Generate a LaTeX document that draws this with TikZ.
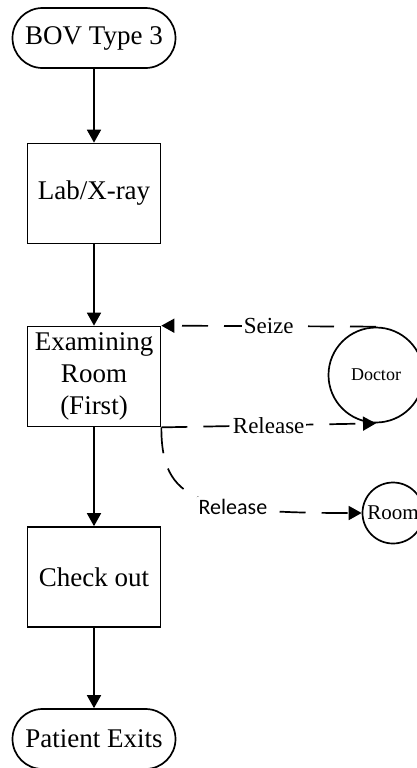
\documentclass[tikz,border=0pt]{standalone}
\usepackage{fontspec}
\setmainfont{Liberation Serif}
\newfontfamily\labelsans{Carlito}
\usepackage{tikz}
\usetikzlibrary{positioning, arrows.meta, calc}

\begin{document}
\begin{tikzpicture}[x=0.5pt, y=-0.5pt, line width=0.85pt,
	terminal/.style={draw, rectangle, rounded corners=15pt, minimum width=81.5pt,
	minimum height=30pt, inner sep=0pt, font=\fontsize{13.5}{16}\selectfont},
	process/.style={draw, rectangle, minimum width=66.5pt,
	minimum height=50pt, inner sep=0pt, align=center, font=\fontsize{13.5}{16}\selectfont},
	resource/.style={draw, circle, inner sep=0pt, font=\fontsize{9}{11}\selectfont},
	flow/.style={-{Triangle[length=6.5pt, width=7pt]}},
	link/.style={-{Triangle[length=6.5pt, width=7pt]}, dash pattern=on 13pt off 8pt},
	linklabel/.style={fill=white, inner sep=1pt, font=\fontsize{11.5}{13}\selectfont}]
	\useasboundingbox (0,0) rectangle (417,768);
	
	\node[terminal] (bov) at (94,38) {BOV Type 3};
	
	% Process steps
	\node[process] (lab) at ($(bov) + (0,155.5)$) {Lab/X-ray};
	\node[process] (exam) at ($(bov) + (0,338.5)$) {Examining\\Room\\(First)};
	\node[process] (check) at ($(bov) + (0,539)$) {Check out};
	
	\node[terminal] (exits) at ($(bov) + (0,701)$) {Patient Exits};
	
	% Resources
	\node[resource, minimum size=47.5pt] (doctor) at ($(bov) + (282,337)$) {Doctor};
	\node[resource, minimum size=30.5pt, font=\fontsize{10.5}{12}\selectfont] (room) at ($(bov) + (299,475)$) {Room};
	
	% Patient flow
	\draw[flow] (bov) -- (lab);
	\draw[flow] (lab) -- (exam);
	\draw[flow] (exam) -- (check);
	\draw[flow] (check) -- (exits);
	
	% Seize / release
	\draw[link] (doctor.north) -- (exam.north east) node[midway, linklabel] {Seize};
	\draw[link] (exam.south east) -- (doctor.south) node[midway, linklabel] {Release};
	\draw[link] (exam.south east) .. controls +(0,74) and +(-163,0) .. (room.west)
		node[pos=0.65, linklabel, font=\labelsans\fontsize{11}{13}\selectfont] {Release};
\end{tikzpicture}
\end{document}
